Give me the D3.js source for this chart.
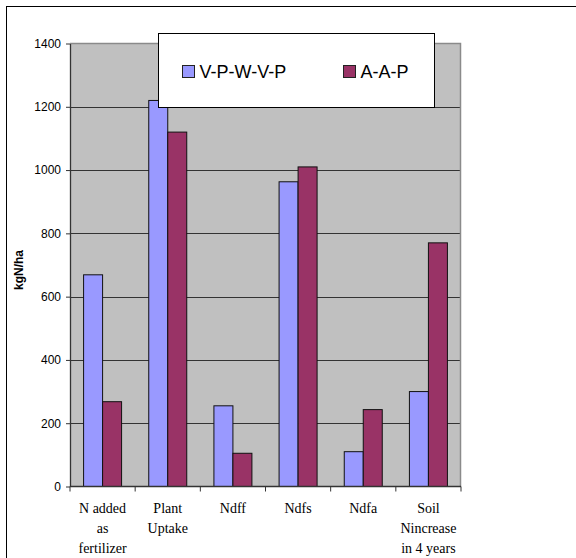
<!DOCTYPE html>
<html>
<head>
<meta charset="utf-8">
<script src="https://cdn.jsdelivr.net/npm/d3@7"></script>
<style>
  html, body { margin: 0; padding: 0; background: #fff; }
  svg { display: block; }
</style>
</head>
<body>
<svg id="chart" width="576" height="558"></svg>
<script>
// Nitrogen balance by crop rotation (kgN/ha)
const categories = [
  ["N added", "as", "fertilizer"],
  ["Plant", "Uptake"],
  ["Ndff"],
  ["Ndfs"],
  ["Ndfa"],
  ["Soil", "Nincrease", "in 4 years"]
];
const seriesNames = ["V-P-W-V-P", "A-A-P"];
const seriesColors = ["#9999FF", "#993366"];
const vpwvp = [669, 1220, 255, 963, 110, 300];
const aap = [268, 1120, 105, 1010, 243, 770];
const yTicks = [0, 200, 400, 600, 800, 1000, 1200, 1400];

const svg = d3.select("#chart");
const plot = { left: 70, right: 461, top: 43.5, bottom: 486.5 };

// outer chart frame (runs off the right and bottom edges)
svg.append("rect")
  .attr("x", 6.5).attr("y", 6.5)
  .attr("width", 700).attr("height", 700)
  .attr("fill", "none").attr("stroke", "#000").attr("stroke-width", 1);

const x0 = d3.scaleBand()
  .domain(d3.range(categories.length))
  .range([plot.left, plot.right])
  .padding(0);
const x1 = d3.scaleBand()
  .domain(d3.range(seriesNames.length))
  .range([0, x0.bandwidth()])
  .paddingInner(0)
  .paddingOuter(0.715);
const y = d3.scaleLinear().domain([0, 1400]).range([plot.bottom, plot.top]);

// plot background
svg.append("rect")
  .attr("x", plot.left).attr("y", plot.top)
  .attr("width", plot.right - plot.left).attr("height", plot.bottom - plot.top)
  .attr("fill", "#C0C0C0");

// gridlines
svg.append("g").selectAll("line")
  .data(yTicks.filter(d => d > 0 && d < 1400))
  .join("line")
  .attr("x1", plot.left).attr("x2", plot.right)
  .attr("y1", d => Math.round(y(d)) + 0.5).attr("y2", d => Math.round(y(d)) + 0.5)
  .attr("stroke", "#333").attr("stroke-width", 1);

// top and right border of plot area
svg.append("path")
  .attr("d", `M${plot.left},${plot.top}H${plot.right - 0.5}V${plot.bottom}`)
  .attr("fill", "none").attr("stroke", "#8a8a8a").attr("stroke-width", 1.5);

// bars
const data = categories.map((c, i) => [vpwvp[i], aap[i]]);
svg.append("g").selectAll("g")
  .data(data)
  .join("g")
  .attr("transform", (d, i) => `translate(${x0(i)},0)`)
  .selectAll("rect")
  .data(d => d.map((v, s) => ({ v, s })))
  .join("rect")
  .attr("x", d => x1(d.s))
  .attr("y", d => y(d.v))
  .attr("width", x1.bandwidth())
  .attr("height", d => plot.bottom - y(d.v))
  .attr("fill", d => seriesColors[d.s])
  .attr("stroke", "#111").attr("stroke-width", 1);

// y axis
const yAxis = d3.axisLeft(y).tickValues(yTicks).tickFormat(d3.format("d"))
  .tickSize(4).tickPadding(5).tickSizeOuter(0);
const gy = svg.append("g").attr("transform", `translate(${plot.left},0)`).call(yAxis);
gy.select(".domain").attr("stroke", "#333").attr("stroke-width", 1.3);
gy.selectAll(".tick line").attr("stroke", "#333");
gy.selectAll(".tick text")
  .attr("font-family", "Arial, 'Liberation Sans', sans-serif")
  .attr("font-size", 12).attr("fill", "#000");

// x axis with ticks at category boundaries
const gx = svg.append("g");
gx.append("line")
  .attr("x1", plot.left).attr("x2", plot.right)
  .attr("y1", plot.bottom).attr("y2", plot.bottom)
  .attr("stroke", "#333").attr("stroke-width", 1.3);
gx.selectAll("line.tk")
  .data(d3.range(categories.length + 1))
  .join("line").attr("class", "tk")
  .attr("x1", i => i < categories.length ? x0(i) : plot.right)
  .attr("x2", i => i < categories.length ? x0(i) : plot.right)
  .attr("y1", plot.bottom).attr("y2", plot.bottom + 5)
  .attr("stroke", "#333").attr("stroke-width", 1);

gx.selectAll("text.cat")
  .data(categories)
  .join("text").attr("class", "cat")
  .attr("x", (d, i) => x0(i) + x0.bandwidth() / 2)
  .attr("y", 513)
  .attr("text-anchor", "middle")
  .attr("font-family", "'Times New Roman', 'Liberation Serif', serif")
  .attr("font-size", 14)
  .attr("fill", "#000")
  .selectAll("tspan")
  .data(d => d)
  .join("tspan")
  .attr("x", function () { return this.parentNode.getAttribute("x"); })
  .attr("dy", (d, j) => j === 0 ? 0 : 20)
  .text(d => d);

// y axis title
svg.append("text")
  .attr("transform", "translate(23,270) rotate(-90)")
  .attr("text-anchor", "middle")
  .attr("font-family", "Arial, 'Liberation Sans', sans-serif")
  .attr("font-size", 12).attr("font-weight", "bold")
  .text("kgN/ha");

// legend
const legend = svg.append("g");
legend.append("rect")
  .attr("x", 158.5).attr("y", 33.5).attr("width", 276).attr("height", 74)
  .attr("fill", "#fff").attr("stroke", "#000").attr("stroke-width", 1);
const legendX = [182.5, 343.5];
const items = legend.selectAll("g.item")
  .data(seriesNames)
  .join("g").attr("class", "item")
  .attr("transform", (d, i) => `translate(${legendX[i]},65.5)`);
items.append("rect")
  .attr("width", 12).attr("height", 12)
  .attr("fill", (d, i) => seriesColors[i])
  .attr("stroke", "#222").attr("stroke-width", 1);
items.append("text")
  .attr("x", 17).attr("y", 12.5)
  .attr("font-family", "Arial, 'Liberation Sans', sans-serif")
  .attr("font-size", 18)
  .attr("fill", "#000")
  .text(d => d);
</script>
</body>
</html>
